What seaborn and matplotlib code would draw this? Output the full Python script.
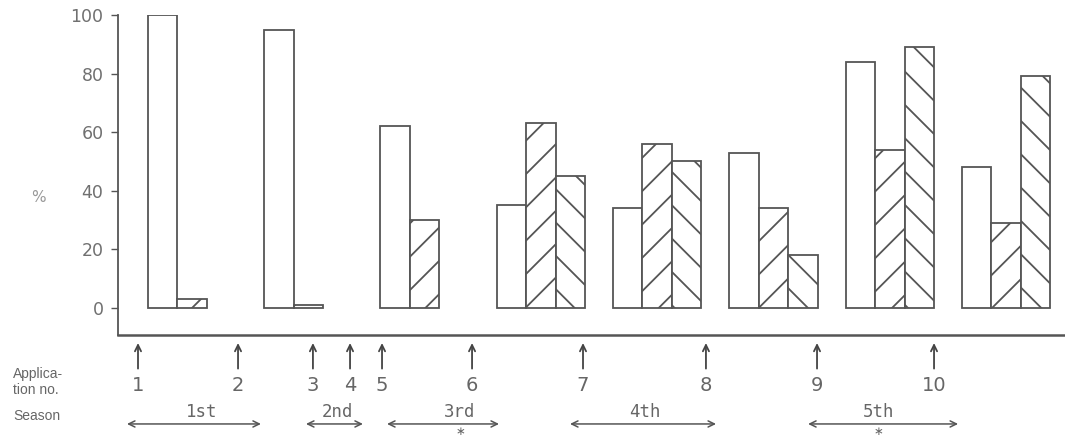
import matplotlib
matplotlib.use("Agg")
import matplotlib.pyplot as plt
import seaborn as sns
import pandas as pd
import numpy as np

# ---------------- data ----------------
groups = ["G1", "G2", "G3", "G4", "G5", "G6", "G7", "G8"]
series = ["open", "fwd", "back"]
open_vals = [100, 95, 62, 35, 34, 53, 84, 48]
fwd_vals = [3, 1, 30, 63, 56, 34, 54, 29]
back_vals = [np.nan, np.nan, np.nan, 45, 50, 18, 89, 79]
yticks = [0, 20, 40, 60, 80, 100]

# application arrows (position along the category axis) and labels
app_labels = ["1", "2", "3", "4", "5", "6", "7", "8", "9", "10"]
app_pos = [-0.464, 0.396, 1.040, 1.359, 1.634, 2.408, 3.362, 4.419, 5.374, 6.380]

# seasons
season_labels = ["1st", "2nd", "3rd", "4th", "5th"]
season_start = [-0.559, 0.980, 1.677, 3.250, 5.297]
season_end = [0.593, 1.470, 2.640, 4.506, 6.587]
season_label_x = [0.086, 1.247, 2.304, 3.895, 5.899]
season_star = [False, False, True, False, True]

# ---------------- figure ----------------
sns.set_style("white")
plt.rcParams["font.family"] = ["DejaVu Sans"]
plt.rcParams["hatch.linewidth"] = 1.3

df = pd.DataFrame({
    "group": groups * 3,
    "series": [s for s in series for _ in groups],
    "value": open_vals + fwd_vals + back_vals,
})

W, H = 1065, 438
fig = plt.figure(figsize=(W / 100, H / 100), dpi=100)
fig.patch.set_facecolor("white")
ax = fig.add_axes([118 / W, (H - 335) / H, (W - 118) / W, (335 - 15) / H])

line_col = "#555555"
text_col = "#666666"

sns.barplot(data=df, x="group", y="value", hue="series", order=groups,
            hue_order=series, palette={s: "white" for s in series},
            width=0.76, edgecolor=line_col, linewidth=1.3, legend=False,
            errorbar=None, ax=ax, saturation=1)

hatches = [None, "/", "\\"]
for cont, h in zip(ax.containers, hatches):
    for p in cont:
        p.set_facecolor("white")
        p.set_edgecolor(line_col)
        if h:
            p.set_hatch(h)

ax.set_xlim(-0.636, 7.506)
ax.set_ylim(-9.3, 100)
ax.set_xticks([])
ax.set_yticks(yticks)
ax.set_yticklabels([str(t) for t in yticks])
ax.tick_params(axis="y", length=5, width=1, color=line_col, labelsize=12.5,
               labelcolor="#707070", pad=5.5, left=True)
ax.set_xlabel("")
ax.set_ylabel("")
for side in ["top", "right"]:
    ax.spines[side].set_visible(False)
ax.spines["left"].set_color(line_col)
ax.spines["left"].set_linewidth(1.3)
ax.spines["bottom"].set_color(line_col)
ax.spines["bottom"].set_linewidth(1.8)

fig.text(38 / W, 1 - 198 / H, "%", color="#999999", fontsize=11,
         ha="center", va="center")

tr = ax.get_xaxis_transform()
for x, lab in zip(app_pos, app_labels):
    ax.annotate("", xy=(x, -0.025), xytext=(x, -0.105), xycoords=tr,
                textcoords=tr, annotation_clip=False,
                arrowprops=dict(arrowstyle="->,head_length=0.45,head_width=0.22",
                                color="#444444", lw=1.3, shrinkA=0, shrinkB=0))
    ax.text(x, -0.158, lab, transform=tr, ha="center", va="center",
            fontsize=14, color=text_col, clip_on=False)

for x0, x1, lx, lab, star in zip(season_start, season_end, season_label_x,
                                 season_labels, season_star):
    ax.annotate("", xy=(x1, -0.278), xytext=(x0, -0.278), xycoords=tr,
                textcoords=tr, annotation_clip=False,
                arrowprops=dict(arrowstyle="<->,head_length=0.45,head_width=0.22",
                                color="#555555", lw=1.1, shrinkA=0, shrinkB=0))
    ax.text(lx, -0.242, lab, transform=tr, ha="center", va="center",
            fontsize=12.5, color=text_col, family="DejaVu Sans Mono", clip_on=False)
    if star:
        ax.text(lx, -0.303, r"$\ast$", transform=tr, ha="center", va="center",
                fontsize=8.5, color=text_col, clip_on=False)

left_font = ["Liberation Sans", "DejaVu Sans"]
fig.text(13 / W, 1 - 382 / H, "Applica-\ntion no.", color=text_col,
         fontsize=10, ha="left", va="center", family=left_font, linespacing=1.1)
fig.text(13 / W, 1 - 416 / H, "Season", color=text_col, fontsize=10,
         ha="left", va="center", family=left_font)

fig.savefig("out.png", dpi=100, facecolor="white")
